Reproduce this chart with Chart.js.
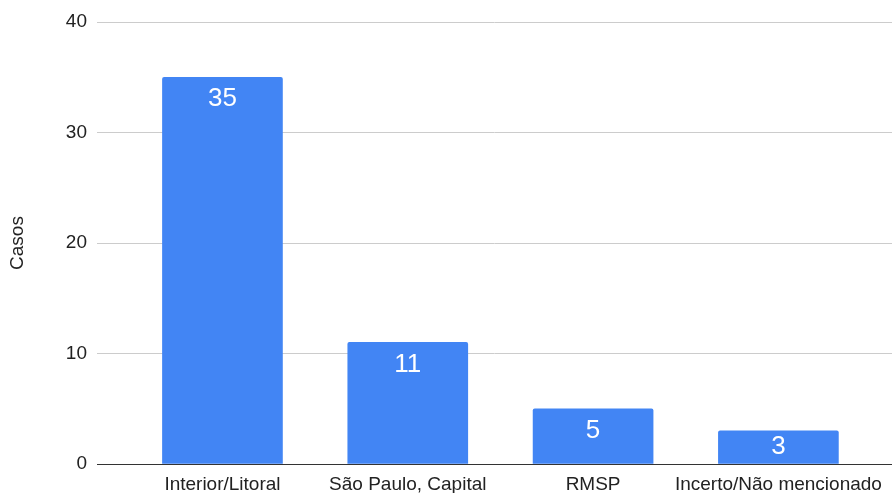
<!DOCTYPE html>
<html>
<head>
<meta charset="utf-8">
<script src="https://cdn.jsdelivr.net/npm/chart.js@4"></script>
<style>
  html, body { margin: 0; padding: 0; background: #fff; }
  #wrap { width: 892px; height: 493px; }
</style>
</head>
<body>
<div id="wrap"><canvas id="chart"></canvas></div>
<script>
const categories = ['Interior/Litoral', 'São Paulo, Capital', 'RMSP', 'Incerto/Não mencionado'];
const casos = [35, 11, 5, 3];
const yTicks = [0, 10, 20, 30, 40];

const FONT = '"Liberation Sans", Arial, sans-serif';

// draws the value inside the top of each bar (centred when the bar is short)
const barLabels = {
  id: 'barLabels',
  afterDatasetsDraw(chart) {
    const ctx = chart.ctx;
    const meta = chart.getDatasetMeta(0);
    ctx.save();
    ctx.fillStyle = '#fff';
    ctx.font = '26px ' + FONT;
    ctx.textAlign = 'center';
    ctx.textBaseline = 'middle';
    meta.data.forEach((bar, i) => {
      const off = Math.min(22, (bar.base - bar.y) / 2);
      ctx.fillText(String(casos[i]), bar.x, bar.y + off);
    });
    ctx.restore();
  }
};

const ctx = document.getElementById('chart').getContext('2d');
new Chart(ctx, {
  type: 'bar',
  data: {
    datasets: [{
      data: casos.map((v, i) => ({ x: i, y: v })),
      backgroundColor: '#4285F4',
      barThickness: 120,
      borderRadius: 2,
      borderSkipped: 'start'
    }]
  },
  options: {
    responsive: true,
    maintainAspectRatio: false,
    animation: false,
    layout: { padding: { top: 22, right: 0, left: 0, bottom: 0 } },
    plugins: { legend: { display: false }, tooltip: { enabled: false } },
    scales: {
      x: {
        type: 'linear',
        offset: false,
        min: -0.677,
        max: 3.613,
        afterBuildTicks: (scale) => { scale.ticks = categories.map((_, i) => ({ value: i })); },
        afterFit: (scale) => { scale.height = 29; },
        grid: { display: false, drawTicks: false },
        border: { display: true, color: '#333', width: 1 },
        ticks: {
          autoSkip: false,
          maxRotation: 0,
          padding: 9,
          color: '#222',
          font: { family: FONT, size: 19 },
          callback: (v) => categories[v]
        }
      },
      y: {
        min: 0,
        max: 40,
        afterBuildTicks: (scale) => { scale.ticks = yTicks.map(v => ({ value: v })); },
        afterFit: (scale) => { scale.width = 97; },
        grid: { color: '#ccc', drawTicks: false },
        border: { display: false },
        ticks: {
          padding: 10,
          color: '#222',
          font: { family: FONT, size: 19 }
        },
        title: {
          display: true,
          text: 'Casos',
          color: '#222',
          font: { family: FONT, size: 19 },
          padding: { top: 6, bottom: 0 }
        }
      }
    }
  },
  plugins: [barLabels]
});
</script>
</body>
</html>
